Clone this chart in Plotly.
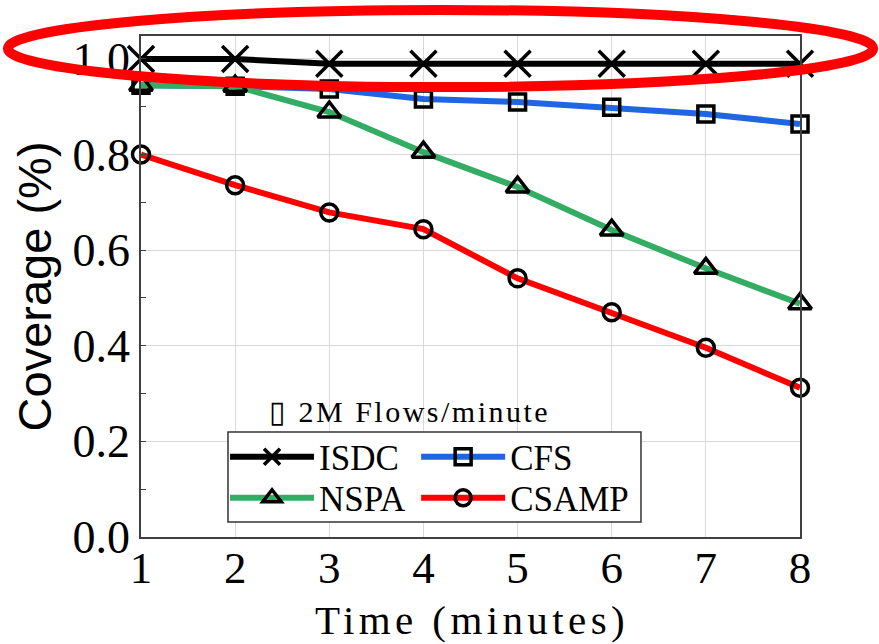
import plotly.graph_objects as go

time_min = [1, 2, 3, 4, 5, 6, 7, 8]
isdc = [1.0, 1.0, 0.99, 0.99, 0.99, 0.99, 0.99, 0.99]
cfs = [0.945, 0.943, 0.937, 0.916, 0.910, 0.899, 0.885, 0.864]
nspa = [0.945, 0.943, 0.889, 0.805, 0.732, 0.642, 0.562, 0.488]
csamp = [0.80, 0.736, 0.679, 0.644, 0.541, 0.470, 0.396, 0.312]
series_names = ["ISDC", "CFS", "NSPA", "CSAMP"]
y_ticks = [0.0, 0.2, 0.4, 0.6, 0.8, 1.0]

SERIF = "Liberation Serif, Times New Roman, serif"
SANS = "Liberation Sans, Arial, sans-serif"

styles = [
    (isdc, "#000000", "x-thin-open", 26, 3.5, "legend"),
    (cfs, "#1f66e0", "square-open", 16, 3.5, "legend2"),
    (nspa, "#34ad64", "triangle-up-open", 20, 3.5, "legend3"),
    (csamp, "#ff0000", "circle-open", 17, 3.5, "legend4"),
]

fig = go.Figure()
for (vals, color, sym, size, lw, lg), name in zip(styles, series_names):
    fig.add_trace(go.Scatter(
        x=time_min, y=vals, name=name, mode="lines+markers", cliponaxis=False,
        legend=lg,
        line=dict(color=color, width=6),
        marker=dict(symbol=sym, size=size, color="black", line=dict(color="black", width=lw)),
    ))

legend_common = dict(
    orientation="h", xanchor="left", yanchor="middle",
    borderwidth=0, bgcolor="rgba(0,0,0,0)",
    font=dict(family=SERIF, size=35, color="black"),
    itemwidth=84,
)
col1_x, col2_x = 0.1275, 0.4175
row1_y, row2_y = 0.1597, 0.0778

fig.update_layout(
    width=879, height=644,
    margin=dict(l=141, r=79, t=36, b=107),
    paper_bgcolor="white", plot_bgcolor="white",
    showlegend=True,
    legend=dict(x=col1_x, y=row1_y, **legend_common),
    legend2=dict(x=col2_x, y=row1_y, **legend_common),
    legend3=dict(x=col1_x, y=row2_y, **legend_common),
    legend4=dict(x=col2_x, y=row2_y, **legend_common),
    xaxis=dict(
        range=[1, 8], tickvals=time_min, ticks="", showgrid=True, automargin=False,
        gridcolor="#d9d9d9", gridwidth=1, zeroline=False, ticklabelstandoff=-10,
        showline=True, linecolor="#404040", linewidth=1.5, mirror=True,
        tickfont=dict(family=SERIF, size=45, color="black"),
    ),
    yaxis=dict(
        range=[0, 1.048], tickvals=y_ticks, ticktext=[f"{v:.1f}" for v in y_ticks],
        ticks="inside", ticklen=5, tickcolor="#404040", automargin=False,
        minor=dict(dtick=0.1, ticks="inside", ticklen=5, tickcolor="#404040", showgrid=False),
        showgrid=True, gridcolor="#d9d9d9", gridwidth=1, zeroline=False,
        showline=True, linecolor="#404040", linewidth=1.5, mirror=True,
        tickfont=dict(family=SERIF, size=46, color="black"),
    ),
    annotations=[
        dict(text="<span style='letter-spacing:2.5px'>\u25af 2M Flows/minute</span>",
             x=0.408, y=0.213, xref="paper", yref="paper",
             showarrow=False, font=dict(family=SERIF, size=30, color="black")),
        dict(text="<span style='letter-spacing:4.4px'>Time (minutes)</span>",
             x=0.502, y=-0.166, xref="paper", yref="paper", yanchor="middle",
             showarrow=False, font=dict(family=SERIF, size=41, color="black")),
        dict(text="Coverage (%)", textangle=-90,
             x=-0.161, y=0.5, xref="paper", yref="paper", xanchor="center", yanchor="middle",
             showarrow=False, font=dict(family=SANS, size=47, color="black")),
    ],
    shapes=[
        dict(type="rect", xref="paper", yref="paper",
             x0=0.132, x1=0.7587, y0=0.030, y1=0.2096,
             line=dict(color="#333333", width=1.5), fillcolor="white", layer="above"),
        dict(type="circle", xref="paper", yref="paper",
             x0=-0.202, x1=1.111, y0=0.898, y1=1.052,
             line=dict(color="#ff0000", width=10), layer="above"),
    ],
)

fig.write_html("out.html", config={"displayModeBar": False},
               post_script="document.body.style.margin='0';")
